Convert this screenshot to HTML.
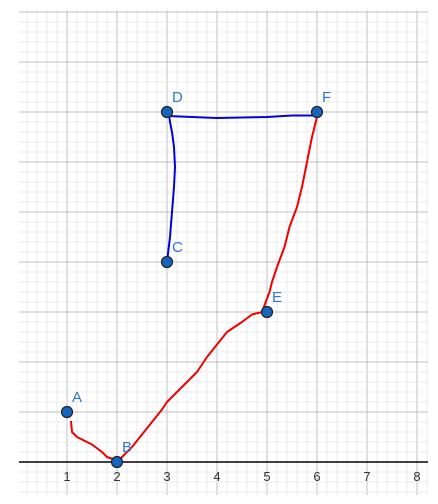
<!DOCTYPE html>
<html><head><meta charset="utf-8"><style>
body{margin:0;background:#fff;}
svg{display:block;font-family:"Liberation Sans",sans-serif;}
</style></head><body>
<svg id="c" width="438" height="504"></svg>
<script>
const xTicks=[1,2,3,4,5,6,7,8];
const pointNames=["A","B","C","D","E","F"];
const pointX=[1,2,3,3,5,6];
const pointY=[1,0,4,7,3,7];
const blueX=[3,3.06,3.1,3.14,3.16,3.14,3.1,3.06,3.04,3.02,3.5,4,4.5,5,5.5,6];
const blueY=[4,4.5,5,5.5,5.9,6.3,6.6,6.8,6.95,6.92,6.9,6.88,6.89,6.9,6.93,6.93];
const redX=[1.08,1.1,1.2,1.4,1.5,1.7,1.8,1.95,2.02,2.1,2.3,2.5,2.7,2.9,3.0,3.3,3.6,3.8,4.0,4.2,4.5,4.7,4.9,5.05,5.1,5.2,5.35,5.45,5.6,5.7,5.8,5.9,6.0];
const redY=[0.82,0.6,0.5,0.4,0.35,0.2,0.1,0.05,0.0,0.1,0.3,0.55,0.8,1.05,1.2,1.5,1.8,2.1,2.35,2.6,2.8,2.95,3.0,3.4,3.6,3.9,4.3,4.7,5.1,5.5,6.0,6.5,6.9];
const x0=17,y0=462,u=50,gLeft=19,gRight=428,gTop=10,gBot=495;
const sx=v=>x0+v*u, sy=v=>y0-v*u;
const svg=document.getElementById('c'),NS="http://www.w3.org/2000/svg";
function mk(t,a){const e=document.createElementNS(NS,t);for(const k in a)e.setAttribute(k,a[k]);svg.appendChild(e);return e;}
for(let px=x0+10;px<=gRight;px+=10){const maj=((px-x0)%50)===0;
 const l=mk('line',{x1:px,y1:gTop,x2:px,y2:gBot,stroke:maj?'#c0c0c0':'#ebebeb','stroke-width':1});
 
 }
for(let py=y0+30;py>=gTop;py-=10){const maj=((y0-py)%50)===0;
 const l=mk('line',{x1:gLeft,y1:py,x2:gRight,y2:py,stroke:maj?'#c0c0c0':'#ebebeb','stroke-width':1});
 
 }
const ax=mk('line',{x1:gLeft,y1:y0,x2:gRight,y2:y0,stroke:'#000','stroke-width':1.5});


xTicks.forEach(t=>{const e=mk('text',{x:sx(t),y:y0+19,'text-anchor':'middle','font-size':13,fill:'#333'});e.textContent=t;
 
 });
const pb=mk('polyline',{points:blueX.map((v,i)=>sx(v)+','+sy(blueY[i])).join(' '),fill:'none',stroke:'#0000e0','stroke-width':2,'stroke-linejoin':'round'});


const pr=mk('polyline',{points:redX.map((v,i)=>sx(v)+','+sy(redY[i])).join(' '),fill:'none',stroke:'#f00000','stroke-width':2,'stroke-linejoin':'round'});


pointNames.forEach((n,i)=>{const c=mk('circle',{cx:sx(pointX[i]),cy:sy(pointY[i]),r:5.5,fill:'#1565c0',stroke:'#222','stroke-width':1.2});
 
 
 const t=mk('text',{x:sx(pointX[i])+5,y:sy(pointY[i])-10,'font-size':15,fill:'#2f78d0'});t.textContent=n;
 
 });
</script>
</body></html>
